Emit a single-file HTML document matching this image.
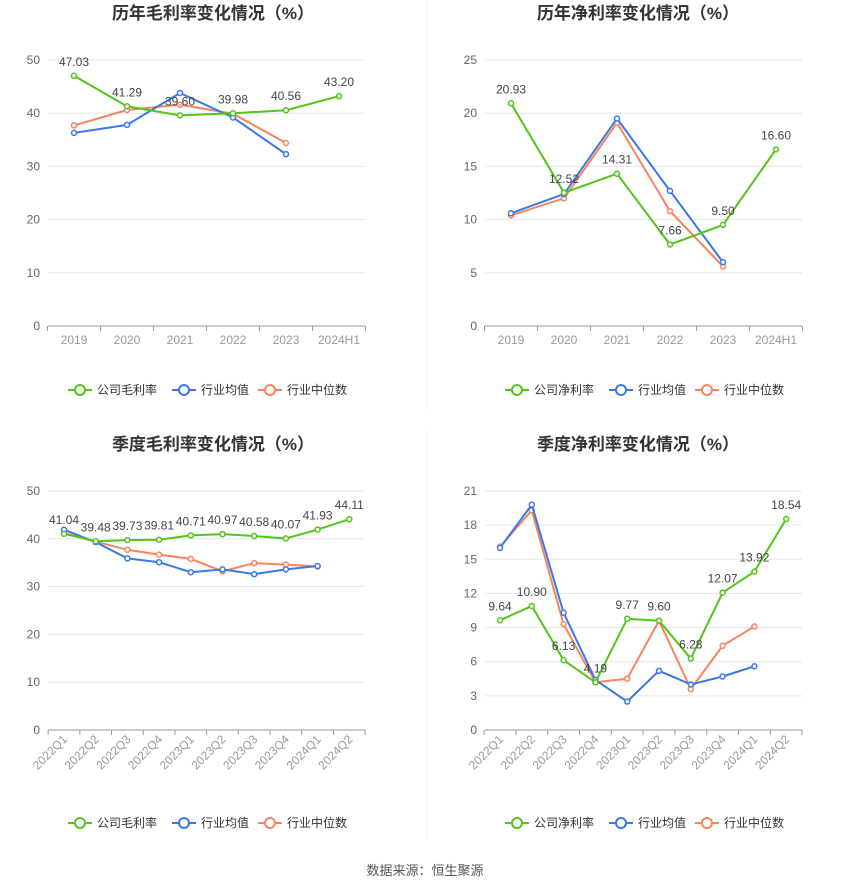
<!DOCTYPE html>
<html><head><meta charset="utf-8"><style>
body{margin:0;background:#fff;}
svg text{font-family:"Liberation Sans","Noto Sans CJK SC",sans-serif;}
</style></head><body>
<svg id="s" width="850" height="891" xmlns="http://www.w3.org/2000/svg"></svg>
<script>
const s=document.getElementById('s');let h='';
const G='#52c41a',B='#3a77e8',O='#f7845e';
h+='<line x1="427" y1="0" x2="427" y2="410" stroke="#eee"/><line x1="427" y1="430" x2="427" y2="840" stroke="#eee"/>';
function chart(o){
 const {l,r,y0,yt,max,step,labels,x0,dx,series,title,tx,rot,leg,ly,lname}=o;
 const sc=(y0-yt)/max;
 h+=`<text x="${tx}" y="${o.ty}" font-size="17" font-weight="bold" fill="#333" text-anchor="middle">${title}</text>`;
 for(let v=0;v<=max+1e-9;v+=step){const y=y0-v*sc;
  h+=`<line x1="${l}" y1="${y}" x2="${r}" y2="${y}" stroke="${v==0?'#999':'#e6e6e6'}"/>`;
  h+=`<text x="${l-8}" y="${y+4}" font-size="12" fill="#666" text-anchor="end">${v}</text>`;}
 labels.forEach((t,i)=>{const x=x0+i*dx;
  h+=`<line x1="${x+dx/2}" y1="${y0}" x2="${x+dx/2}" y2="${y0+5}" stroke="#999"/>`;
  if(rot)h+=`<text transform="translate(${x+4},${y0+10}) rotate(-45)" font-size="12" fill="#999" text-anchor="end">${t}</text>`;
  else h+=`<text x="${x}" y="${y0+18}" font-size="12" fill="#999" text-anchor="middle">${t}</text>`;});
 h+=`<line x1="${x0-dx/2}" y1="${y0}" x2="${x0-dx/2}" y2="${y0+5}" stroke="#999"/>`;
 [[series[2],O],[series[1],B],[series[0],G]].forEach(([d,c])=>{
  const pts=d.map((v,i)=>[x0+i*dx,y0-v*sc]);
  h+=`<polyline points="${pts.map(p=>p.join(',')).join(' ')}" fill="none" stroke="${c}" stroke-width="2"/>`;
  pts.forEach(p=>h+=`<circle cx="${p[0]}" cy="${p[1]}" r="2.5" fill="#fff" stroke="${c}" stroke-width="1.5"/>`);});
 series[0].forEach((v,i)=>{const x=x0+i*dx,y=y0-v*sc;
  h+=`<text x="${x}" y="${y-10}" font-size="12" fill="#444" text-anchor="middle">${v.toFixed(2)}</text>`;});
 const items=[[lname,G],['行业均值',B],['行业中位数',O]];let lx=leg;
 items.forEach(([t,c],k)=>{h+=`<line x1="${lx}" y1="${ly}" x2="${lx+24}" y2="${ly}" stroke="${c}" stroke-width="2"/><circle cx="${lx+12}" cy="${ly}" r="5" fill="#fff" stroke="${c}" stroke-width="2"/><text x="${lx+29}" y="${ly+4}" font-size="12" fill="#333">${t}</text>`;lx+=[104,86,0][k];});
}
chart({l:48,r:365,y0:326,yt:60,max:50,step:10,labels:['2019','2020','2021','2022','2023','2024H1'],x0:74,dx:53,
 series:[[47.03,41.29,39.6,39.98,40.56,43.20],[36.3,37.8,43.8,39.2,32.3],[37.7,40.6,41.6,39.9,34.4]],
 title:'历年毛利率变化情况（%）',tx:213,ty:19,leg:68,ly:390,lname:'公司毛利率'});
chart({l:485,r:802,y0:326,yt:60,max:25,step:5,labels:['2019','2020','2021','2022','2023','2024H1'],x0:511,dx:53,
 series:[[20.93,12.52,14.31,7.66,9.50,16.60],[10.6,12.4,19.5,12.7,6.0],[10.4,12.0,19.1,10.8,5.6]],
 title:'历年净利率变化情况（%）',tx:638,ty:19,leg:505,ly:390,lname:'公司净利率'});
const q=['2022Q1','2022Q2','2022Q3','2022Q4','2023Q1','2023Q2','2023Q3','2023Q4','2024Q1','2024Q2'];
chart({l:48,r:365,y0:730,yt:491,max:50,step:10,labels:q,x0:64,dx:31.7,rot:1,
 series:[[41.04,39.48,39.73,39.81,40.71,40.97,40.58,40.07,41.93,44.11],[41.9,39.3,35.9,35.1,33.0,33.6,32.6,33.6,34.3],[41.2,39.4,37.7,36.7,35.8,33.2,34.9,34.6,34.2]],
 title:'季度毛利率变化情况（%）',tx:213,ty:450,leg:68,ly:823,lname:'公司毛利率'});
chart({l:485,r:802,y0:730,yt:491,max:21,step:3,labels:q,x0:500,dx:31.8,rot:1,
 series:[[9.64,10.90,6.13,4.19,9.77,9.60,6.28,12.07,13.92,18.54],[16.0,19.8,10.3,4.4,2.5,5.2,4.0,4.7,5.6],[16.1,19.3,9.3,4.2,4.5,9.6,3.6,7.4,9.1]],
 title:'季度净利率变化情况（%）',tx:638,ty:450,leg:505,ly:823,lname:'公司净利率'});
h+='<text x="425" y="875" font-size="13" fill="#555" text-anchor="middle">数据来源：恒生聚源</text>';
s.innerHTML=h;
</script>
</body></html>
